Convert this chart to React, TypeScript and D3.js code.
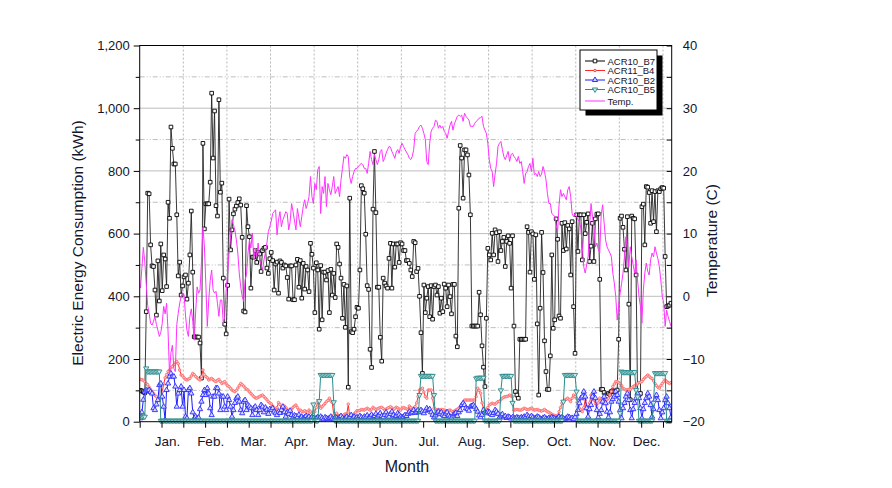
import { useEffect, useRef } from "react";
import * as d3 from "d3";

// month labels along the bottom axis and the day they sit on
const months = ["Jan.", "Feb.", "Mar.", "Apr.", "May.", "Jun.", "Jul.", "Aug.", "Sep.", "Oct.", "Nov.", "Dec."];
const monthDays = [19.2, 48.8, 78.4, 107.9, 138.7, 168.7, 199, 228.5, 258.6, 288.8, 318.4, 348.8];

const kwhTicks = [0, 200, 400, 600, 800, 1000, 1200];
const kwhMinor = [100, 300, 500, 700, 900, 1100];
const tempTicks = [-20, -10, 0, 10, 20, 30, 40];
const tempMinor = [-15, -5, 5, 15, 25, 35];

// daily electric energy consumption (kWh), day 0 = Jan 1
const acr10B7 = [
  100, 98, 95, 92, 351, 729, 727, 564, 497, 495,
  420, 340, 513, 385, 567, 418, 532, 519, 431, 700,
  649, 940, 872, 822, 822, 660, 465, 509, 404, 433,
  462, 468, 391, 442, 532, 672, 477, 271, 270, 270,
  270, 251, 139, 888, 615, 695, 695, 695, 764, 1048,
  841, 991, 689, 656, 1027, 732, 761, 458, 311, 280,
  435, 710, 548, 612, 663, 678, 688, 699, 711, 691,
  588, 353, 350, 689, 622, 590, 426, 525, 525, 546,
  508, 540, 535, 479, 546, 553, 556, 490, 473, 520,
  540, 514, 420, 503, 509, 410, 513, 508, 490, 500,
  497, 460, 391, 497, 497, 389, 389, 500, 518, 429,
  514, 394, 505, 423, 495, 484, 415, 569, 534, 490,
  348, 507, 484, 295, 498, 325, 477, 477, 452, 482,
  348, 486, 404, 473, 396, 567, 556, 503, 458, 330,
  438, 301, 433, 110, 713, 287, 284, 295, 335, 365,
  362, 484, 753, 743, 729, 598, 434, 422, 231, 173,
  678, 862, 667, 429, 429, 269, 193, 458, 442, 433,
  426, 521, 569, 426, 567, 493, 567, 567, 508, 571,
  567, 546, 546, 514, 514, 505, 484, 463, 575, 571,
  479, 489, 400, 284, 154, 436, 348, 394, 431, 335,
  434, 327, 431, 436, 404, 431, 346, 394, 351, 439,
  426, 367, 436, 399, 344, 438, 438, 273, 239, 681,
  881, 841, 713, 867, 867, 851, 787, 660, 305, 305,
  305, 305, 305, 413, 341, 242, 174, 112, 330, 553,
  532, 516, 601, 532, 612, 603, 511, 606, 546, 575,
  588, 495, 575, 593, 569, 426, 593, 305, 96, 85,
  75, 263, 263, 263, 263, 263, 622, 604, 477, 606,
  599, 454, 596, 312, 85, 362, 604, 476, 258, 160,
  103, 103, 210, 532, 298, 325, 647, 582, 337, 330,
  633, 546, 635, 551, 626, 615, 468, 638, 367, 218,
  660, 543, 660, 660, 516, 660, 600, 636, 663, 511,
  560, 633, 511, 647, 662, 663, 454, 103, 103, 93,
  85, 82, 90, 88, 96, 99, 96, 96, 101, 263,
  649, 656, 620, 550, 484, 654, 375, 70, 656, 649,
  647, 468, 85, 85, 90, 686, 694, 564, 750, 748,
  731, 633, 737, 638, 734, 606, 737, 734, 743, 747,
  745, 527, 367, 369, 372, 378,
];

const acr11B4 = [
  135, 134, 132, 128, 122, 118, 110, 103, 96, 90,
  84, 80, 72, 68, 75, 95, 120, 140, 150, 160,
  165, 172, 176, 182, 188, 192, 185, 165, 149, 146,
  140, 135, 133, 136, 138, 146, 154, 150, 144, 140,
  136, 133, 144, 165, 150, 144, 140, 133, 136, 138,
  134, 130, 128, 132, 135, 128, 122, 125, 128, 120,
  115, 112, 106, 101, 98, 96, 100, 107, 115, 122,
  118, 114, 108, 104, 101, 95, 90, 85, 80, 76,
  75, 78, 80, 83, 85, 80, 75, 70, 64, 60,
  57, 50, 44, 37, 45, 61, 55, 43, 48, 50,
  45, 39, 35, 32, 40, 46, 50, 53, 45, 37,
  37, 33, 32, 35, 32, 30, 37, 32, 27, 30,
  32, 45, 64, 52, 43, 48, 53, 58, 64, 68,
  75, 66, 61, 21, 25, 27, 20, 14, 16, 18,
  22, 25, 25, 56, 14, 16, 18, 25, 30, 35,
  35, 36, 39, 38, 37, 40, 43, 40, 37, 40,
  46, 42, 39, 41, 43, 45, 46, 42, 37, 40,
  43, 45, 48, 44, 39, 42, 46, 44, 40, 37,
  43, 45, 43, 41, 39, 50, 45, 39, 44, 48,
  60, 80, 101, 104, 107, 95, 80, 75, 101, 101,
  101, 75, 43, 40, 37, 39, 38, 39, 38, 37,
  36, 35, 36, 37, 34, 32, 34, 37, 40, 43,
  46, 52, 60, 69, 69, 69, 69, 69, 69, 69,
  69, 80, 107, 100, 91, 60, 43, 40, 37, 45,
  53, 56, 59, 57, 56, 60, 64, 64, 70, 75,
  78, 80, 80, 82, 85, 82, 80, 37, 38, 39,
  38, 37, 37, 40, 43, 41, 39, 39, 41, 43,
  40, 37, 38, 39, 37, 35, 34, 36, 39, 35,
  32, 30, 27, 24, 21, 20, 18, 20, 32, 45,
  59, 64, 69, 72, 75, 70, 64, 75, 85, 80,
  75, 60, 43, 38, 32, 45, 69, 50, 37, 60,
  85, 77, 69, 58, 48, 60, 75, 67, 59, 62,
  64, 70, 75, 85, 96, 112, 120, 128, 128, 125,
  122, 115, 107, 104, 101, 102, 103, 103, 108, 112,
  115, 117, 121, 125, 126, 128, 135, 140, 144, 149,
  145, 140, 138, 130, 122, 115, 110, 107, 115, 122,
  128, 133, 128, 125, 122, 125,
];

const acr10B2 = [
  11, 30, 70, 96, 100, 98, 101, 95, 90, 43,
  37, 55, 69, 117, 122, 80, 48, 5, 101, 122,
  144, 154, 144, 144, 112, 48, 90, 101, 112, 48,
  101, 16, 11, 101, 107, 90, 30, 11, 16, 11,
  13, 40, 64, 85, 101, 85, 107, 90, 43, 21,
  80, 80, 107, 107, 90, 37, 80, 80, 48, 37,
  80, 69, 48, 16, 37, 60, 75, 80, 64, 37,
  27, 64, 69, 37, 53, 48, 43, 21, 43, 48,
  37, 21, 37, 53, 48, 30, 45, 38, 25, 40,
  37, 43, 32, 27, 21, 32, 28, 37, 48, 30,
  16, 30, 25, 35, 21, 14, 20, 18, 14, 22,
  12, 16, 11, 14, 18, 12, 16, 10, 14, 11,
  8, 12, 14, 10, 16, 12, 8, 14, 11, 9,
  12, 16, 10, 8, 14, 12, 10, 14, 18, 12,
  8, 12, 16, 10, 14, 21, 12, 16, 10, 14,
  12, 18, 14, 10, 16, 14, 20, 12, 16, 22,
  14, 18, 25, 16, 20, 27, 18, 14, 22, 30,
  20, 16, 25, 32, 21, 14, 18, 27, 22, 16,
  14, 16, 21, 18, 25, 32, 27, 30, 37, 28,
  32, 37, 30, 37, 32, 27, 35, 43, 37, 40,
  30, 22, 14, 20, 28, 32, 25, 30, 22, 18,
  26, 30, 20, 16, 12, 20, 25, 28, 18, 30,
  37, 53, 59, 53, 43, 40, 35, 48, 50, 53,
  48, 40, 32, 20, 14, 22, 37, 30, 27, 32,
  30, 25, 21, 28, 37, 32, 25, 14, 20, 24,
  14, 18, 12, 16, 14, 10, 14, 12, 10, 14,
  12, 10, 14, 12, 16, 14, 21, 16, 12, 18,
  14, 10, 12, 16, 14, 10, 8, 12, 14, 10,
  8, 12, 10, 14, 12, 10, 8, 12, 16, 12,
  14, 10, 8, 12, 16, 14, 10, 12, 8, 14,
  25, 37, 59, 75, 80, 96, 80, 43, 16, 40,
  53, 80, 96, 75, 37, 14, 25, 37, 64, 80,
  59, 32, 14, 30, 64, 72, 80, 96, 85, 64,
  37, 11, 43, 60, 80, 90, 69, 37, 11, 40,
  60, 75, 90, 75, 43, 11, 40, 60, 75, 90,
  80, 53, 16, 40, 69, 85, 69, 37, 11, 30,
  43, 69, 80, 59, 43, 14,
];

const acr10B5 = [
  16, 16, 16, 16, 170, 160, 160, 160, 160, 160,
  160, 160, 160, 160, 3, 3, 3, 3, 3, 3,
  3, 3, 3, 3, 3, 3, 3, 3, 3, 3,
  3, 3, 3, 3, 3, 3, 3, 3, 3, 3,
  3, 3, 3, 3, 3, 3, 3, 3, 3, 3,
  3, 3, 3, 3, 3, 3, 3, 3, 3, 3,
  3, 3, 3, 3, 3, 3, 3, 3, 3, 3,
  3, 3, 3, 3, 3, 3, 3, 3, 3, 3,
  3, 3, 3, 3, 3, 3, 3, 3, 3, 3,
  3, 3, 3, 3, 3, 3, 3, 3, 3, 3,
  3, 3, 3, 3, 3, 3, 3, 3, 3, 3,
  3, 3, 3, 3, 3, 3, 3, 3, 3, 55,
  3, 3, 3, 66, 149, 149, 149, 149, 149, 149,
  149, 149, 149, 62, 3, 3, 3, 3, 3, 3,
  3, 3, 3, 3, 3, 3, 3, 3, 3, 3,
  3, 3, 3, 3, 3, 3, 3, 3, 3, 3,
  3, 3, 3, 3, 3, 3, 3, 3, 3, 3,
  3, 3, 3, 3, 3, 3, 3, 3, 3, 3,
  3, 3, 3, 3, 3, 3, 3, 3, 3, 3,
  3, 3, 85, 146, 146, 146, 146, 146, 146, 146,
  146, 146, 85, 3, 3, 3, 3, 3, 3, 3,
  3, 3, 3, 3, 3, 3, 3, 3, 3, 3,
  3, 3, 3, 3, 3, 3, 3, 3, 3, 3,
  3, 138, 140, 140, 140, 140, 140, 3, 3, 3,
  3, 3, 3, 3, 3, 3, 3, 3, 100, 146,
  146, 146, 146, 146, 146, 146, 60, 3, 3, 3,
  3, 3, 3, 3, 3, 3, 3, 3, 3, 3,
  3, 3, 3, 3, 3, 3, 3, 3, 3, 3,
  3, 3, 3, 3, 3, 3, 3, 3, 3, 3,
  3, 64, 149, 149, 149, 149, 149, 149, 149, 149,
  96, 3, 3, 3, 3, 3, 3, 3, 3, 3,
  3, 3, 3, 3, 3, 3, 3, 3, 3, 3,
  3, 3, 3, 3, 3, 3, 3, 3, 3, 3,
  27, 160, 158, 158, 158, 158, 158, 158, 158, 158,
  158, 101, 80, 3, 3, 3, 3, 3, 3, 3,
  3, 3, 3, 60, 155, 155, 155, 155, 155, 155,
  155, 155, 3, 3, 3, 3,
];

// daily mean temperature (C)
const temp = [
  1.3, 4.5, 7.8, 5.5, 2.0, -1.5, -2.7, -4.3, -4.6, -4.0,
  -3.2, -4.5, -5.4, -6.4, -5.8, -4.3, -1.6, -2.8, -1.1, -5.5,
  -12.3, -9.0, -7.8, -11.5, -12.0, -4.5, -2.7, -1.1, 0.0, 0.5,
  0.3, -3.0, -5.4, -6.4, -3.2, -2.0, -4.0, -7.0, -2.5, 1.5,
  0.5, 1.0, 5.5, 11.0, 8.0, 2.0, -4.8, -0.6, 2.5, 4.2,
  1.0, 0.5, 0.8, -1.1, -3.2, -0.6, -0.6, -4.3, -3.2, 1.0,
  3.7, 6.9, 9.5, 12.2, 11.4, 10.5, 9.0, 6.9, 3.7, 1.5,
  0.0, -0.8, 2.6, 3.5, 6.9, 9.0, 7.7, 10.1, 5.8, 7.7,
  6.4, 8.5, 5.8, 5.0, 4.2, 5.8, 7.0, 8.5, 10.3, 11.1,
  12.0, 13.2, 13.5, 13.8, 9.8, 12.2, 13.5, 11.1, 12.2, 12.8,
  13.5, 13.2, 10.6, 11.9, 14.8, 13.5, 12.0, 10.6, 14.0, 12.5,
  11.1, 12.7, 14.3, 15.4, 14.0, 14.8, 15.9, 19.1, 15.9, 14.8,
  18.0, 17.0, 20.2, 20.7, 13.2, 17.5, 16.4, 19.1, 14.3, 18.0,
  17.0, 16.2, 17.5, 19.1, 16.4, 17.0, 17.5, 15.9, 18.6, 20.4,
  22.3, 22.0, 22.6, 22.3, 19.0, 18.0, 19.1, 19.9, 20.4, 20.4,
  20.7, 21.0, 21.2, 21.0, 20.4, 20.4, 19.6, 21.2, 23.1, 21.8,
  21.0, 22.6, 21.8, 21.0, 21.8, 23.1, 23.4, 21.5, 22.0, 22.8,
  23.4, 23.9, 23.8, 23.1, 22.6, 22.0, 23.0, 23.4, 22.8, 23.9,
  24.4, 23.9, 23.4, 23.0, 22.6, 22.0, 21.8, 22.3, 23.4, 26.0,
  26.3, 26.6, 27.1, 27.3, 26.8, 26.0, 25.0, 21.5, 21.0, 24.4,
  26.3, 26.8, 27.1, 28.1, 27.9, 26.8, 27.3, 26.8, 27.1, 26.3,
  26.0, 25.2, 26.3, 27.3, 27.9, 26.5, 27.5, 28.1, 28.7, 28.9,
  28.7, 28.9, 27.9, 29.2, 28.7, 28.4, 28.1, 27.1, 27.1, 27.1,
  27.6, 27.9, 28.1, 28.4, 28.5, 28.7, 27.1, 26.5, 26.0, 24.4,
  21.8, 20.4, 19.9, 17.5, 19.5, 21.2, 23.9, 24.4, 24.7, 23.4,
  22.3, 21.8, 22.5, 23.1, 21.5, 22.6, 22.8, 22.3, 22.0, 21.5,
  22.3, 21.2, 21.5, 19.9, 18.0, 19.6, 19.9, 20.7, 21.2, 19.9,
  22.0, 19.4, 19.6, 19.1, 19.9, 19.1, 19.5, 20.7, 19.9, 18.6,
  16.4, 14.8, 14.8, 13.2, 13.0, 12.7, 11.4, 10.3, 14.6, 17.0,
  15.9, 16.4, 15.9, 15.4, 17.0, 17.5, 15.9, 13.2, 12.7, 13.2,
  12.7, 12.2, 11.9, 10.9, 7.9, 4.7, 3.7, 5.0, 6.3, 11.1,
  14.8, 12.7, 11.1, 7.9, 8.5, 7.5, 6.9, 13.0, 14.6, 11.7,
  9.0, 7.9, 7.4, 6.9, 6.3, 3.7, 2.1, 0.0, -3.8, -1.6,
  0.5, 2.0, 3.7, 6.3, 9.5, 7.4, 4.7, 7.9, 6.3, 5.0,
  3.7, 5.8, 2.6, 0.0, -1.6, -4.3, 1.0, 3.7, 5.3, 4.0,
  3.4, 5.8, 6.9, 6.3, 7.9, 6.9, 6.0, 4.7, 2.6, 0.0,
  -1.1, -4.8, -2.2, -3.2, -4.0, -4.8,
];

const FONT = "'Liberation Sans', Arial, Helvetica, sans-serif";
const TXT = "#14142a";

export default function App() {
  const svgRef = useRef<SVGSVGElement>(null);

  useEffect(() => {
    const svg = d3.select(svgRef.current);
    svg.selectAll("*").remove();

    const left = 139.7, right = 671.7, top = 45.5, bottom = 421.7;
    const x = d3.scaleLinear().domain([0, 366]).range([left, right]);
    const y = d3.scaleLinear().domain([0, 1200]).range([bottom, top]);
    const yT = d3.scaleLinear().domain([-20, 40]).range([bottom, top]);
    const dx = (i: number) => x(i + 0.5);

    svg.append("rect").attr("width", 892).attr("height", 488).attr("fill", "#fff");

    svg.append("defs").append("clipPath").attr("id", "plot")
      .append("rect").attr("x", left).attr("y", top - 2)
      .attr("width", right - left).attr("height", bottom - top + 4);

    // grid
    const grid = svg.append("g");
    grid.selectAll("line.v").data(d3.range(30, 361, 30)).join("line")
      .attr("x1", d => x(d)).attr("x2", d => x(d)).attr("y1", top).attr("y2", bottom)
      .attr("stroke", "#b8b8b8").attr("stroke-dasharray", "2,2");
    grid.selectAll("line.hmaj").data(kwhTicks.slice(1, -1)).join("line")
      .attr("x1", left).attr("x2", right).attr("y1", d => y(d)).attr("y2", d => y(d))
      .attr("stroke", "#bdbdbd");
    grid.selectAll("line.hmin").data(kwhMinor).join("line")
      .attr("x1", left).attr("x2", right).attr("y1", d => y(d)).attr("y2", d => y(d))
      .attr("stroke", "#bdbdbd").attr("stroke-dasharray", "5,2,1,2,1,2");

    const plot = svg.append("g").attr("clip-path", "url(#plot)");

    const drawSeries = (
      data: number[], scale: d3.ScaleLinear<number, number>, color: string,
      width: number, symbol: d3.SymbolType | null, size: number,
      mStroke: string, mFill: string, rotate = 0
    ) => {
      const line = d3.line<number>().x((_, i) => dx(i)).y(v => scale(v));
      plot.append("path").datum(data).attr("d", line)
        .attr("fill", "none").attr("stroke", color).attr("stroke-width", width);
      if (!symbol) return;
      const sym = d3.symbol().type(symbol).size(size)();
      plot.append("g").selectAll("path").data(data).join("path")
        .attr("d", sym)
        .attr("transform", (v, i) => `translate(${dx(i)},${scale(v)}) rotate(${rotate})`)
        .attr("fill", mFill).attr("stroke", mStroke).attr("stroke-width", 0.9);
    };

    drawSeries(acr10B7, y, "#222", 0.9, d3.symbolSquare, 13, "#000", "#fff");
    drawSeries(acr11B4, y, "#ff2a2a", 1, d3.symbolCircle, 5, "#ff6a6a", "#ffd0d0");
    drawSeries(acr10B2, y, "#1a1aff", 1, d3.symbolTriangle, 12, "#2a2aff", "#d8d8ff");
    drawSeries(acr10B5, y, "#2a8c8c", 1, d3.symbolTriangle, 12, "#2a8c8c", "#cfe8e8", 180);
    drawSeries(temp, yT, "#ff33ff", 1, null, 0, "", "");

    // frame
    svg.append("rect").attr("x", left).attr("y", top)
      .attr("width", right - left).attr("height", bottom - top)
      .attr("fill", "none").attr("stroke", "#000").attr("stroke-width", 1);

    // left axis
    const yAxis = svg.append("g").attr("transform", `translate(${left},0)`)
      .call(d3.axisLeft(y).tickValues(kwhTicks).tickFormat(d3.format(",")).tickSize(6).tickPadding(4));
    svg.append("g").attr("transform", `translate(${left},0)`)
      .call(d3.axisLeft(y).tickValues(kwhMinor).tickFormat(() => "").tickSize(4))
      .select(".domain").remove();

    // right axis (ticks point inward)
    const rAxis = svg.append("g").attr("transform", `translate(${right},0)`)
      .call(d3.axisRight(yT).tickValues(tempTicks).tickFormat(d3.format("d")).tickSize(-5).tickPadding(11));
    svg.append("g").attr("transform", `translate(${right},0)`)
      .call(d3.axisRight(yT).tickValues(tempMinor).tickFormat(() => "").tickSize(-5))
      .select(".domain").remove();

    // bottom axis
    svg.append("g").attr("transform", `translate(0,${bottom})`)
      .call(d3.axisBottom(x).tickValues(d3.range(0, 361, 15)).tickFormat(() => "").tickSize(6));

    svg.selectAll(".domain").remove();
    svg.selectAll(".tick line").attr("stroke", "#000");
    [yAxis, rAxis].forEach(a => a.selectAll("text")
      .attr("font-family", FONT).attr("font-size", 13).attr("fill", TXT));

    svg.append("g").selectAll("text").data(months).join("text")
      .attr("x", (_, i) => x(monthDays[i])).attr("y", 441.5)
      .attr("text-anchor", "middle").attr("dominant-baseline", "central")
      .attr("font-family", FONT).attr("font-size", 13.5).attr("fill", TXT)
      .text(d => d);

    svg.append("text").attr("x", 407).attr("y", 466.5)
      .attr("text-anchor", "middle").attr("dominant-baseline", "central")
      .attr("font-family", FONT).attr("font-size", 16).attr("fill", TXT).text("Month");

    svg.append("text").attr("transform", "translate(77,243) rotate(-90)")
      .attr("text-anchor", "middle").attr("dominant-baseline", "central")
      .attr("font-family", FONT).attr("font-size", 15.5).attr("fill", TXT)
      .text("Electric Energy Consumption (kWh)");

    svg.append("text").attr("transform", "translate(711.5,240.5) rotate(-90)")
      .attr("text-anchor", "middle").attr("dominant-baseline", "central")
      .attr("font-family", FONT).attr("font-size", 15.5).attr("fill", TXT)
      .text("Temperature (C)");

    // legend
    const lg = svg.append("g");
    lg.append("rect").attr("x", 585.5).attr("y", 55.5).attr("width", 77).attr("height", 60).attr("fill", "#000");
    lg.append("rect").attr("x", 580).attr("y", 50).attr("width", 77).attr("height", 60)
      .attr("fill", "#fff").attr("stroke", "#000").attr("stroke-width", 1);
    const items = [
      { name: "ACR10_B7", color: "#000", sym: d3.symbolSquare, size: 13, fill: "#fff", rot: 0 },
      { name: "ACR11_B4", color: "#ff2a2a", sym: d3.symbolCircle, size: 5, fill: "#ffd0d0", rot: 0 },
      { name: "ACR10_B2", color: "#1a1aff", sym: d3.symbolTriangle, size: 12, fill: "#d8d8ff", rot: 0 },
      { name: "ACR10_B5", color: "#2a8c8c", sym: d3.symbolTriangle, size: 12, fill: "#cfe8e8", rot: 180 },
      { name: "Temp.", color: "#ff33ff", sym: null, size: 0, fill: "", rot: 0 },
    ];
    const rowY = [61, 70.5, 80, 89.5, 101];
    items.forEach((it, i) => {
      const g = lg.append("g").attr("transform", `translate(0,${rowY[i]})`);
      g.append("line").attr("x1", 585).attr("x2", 605).attr("stroke", it.color).attr("stroke-width", 1);
      if (it.sym) {
        g.append("path").attr("d", d3.symbol().type(it.sym).size(it.size)())
          .attr("transform", `translate(595,0) rotate(${it.rot})`)
          .attr("fill", it.fill).attr("stroke", it.color).attr("stroke-width", 0.9);
      }
      g.append("text").attr("x", 607.5).attr("dominant-baseline", "central")
        .attr("font-family", FONT).attr("font-size", 9.5).attr("fill", TXT).text(it.name);
    });
  }, []);

  return (
    <svg ref={svgRef} width={892} height={488}
      style={{ position: "absolute", left: 0, top: 0, display: "block" }} />
  );
}
